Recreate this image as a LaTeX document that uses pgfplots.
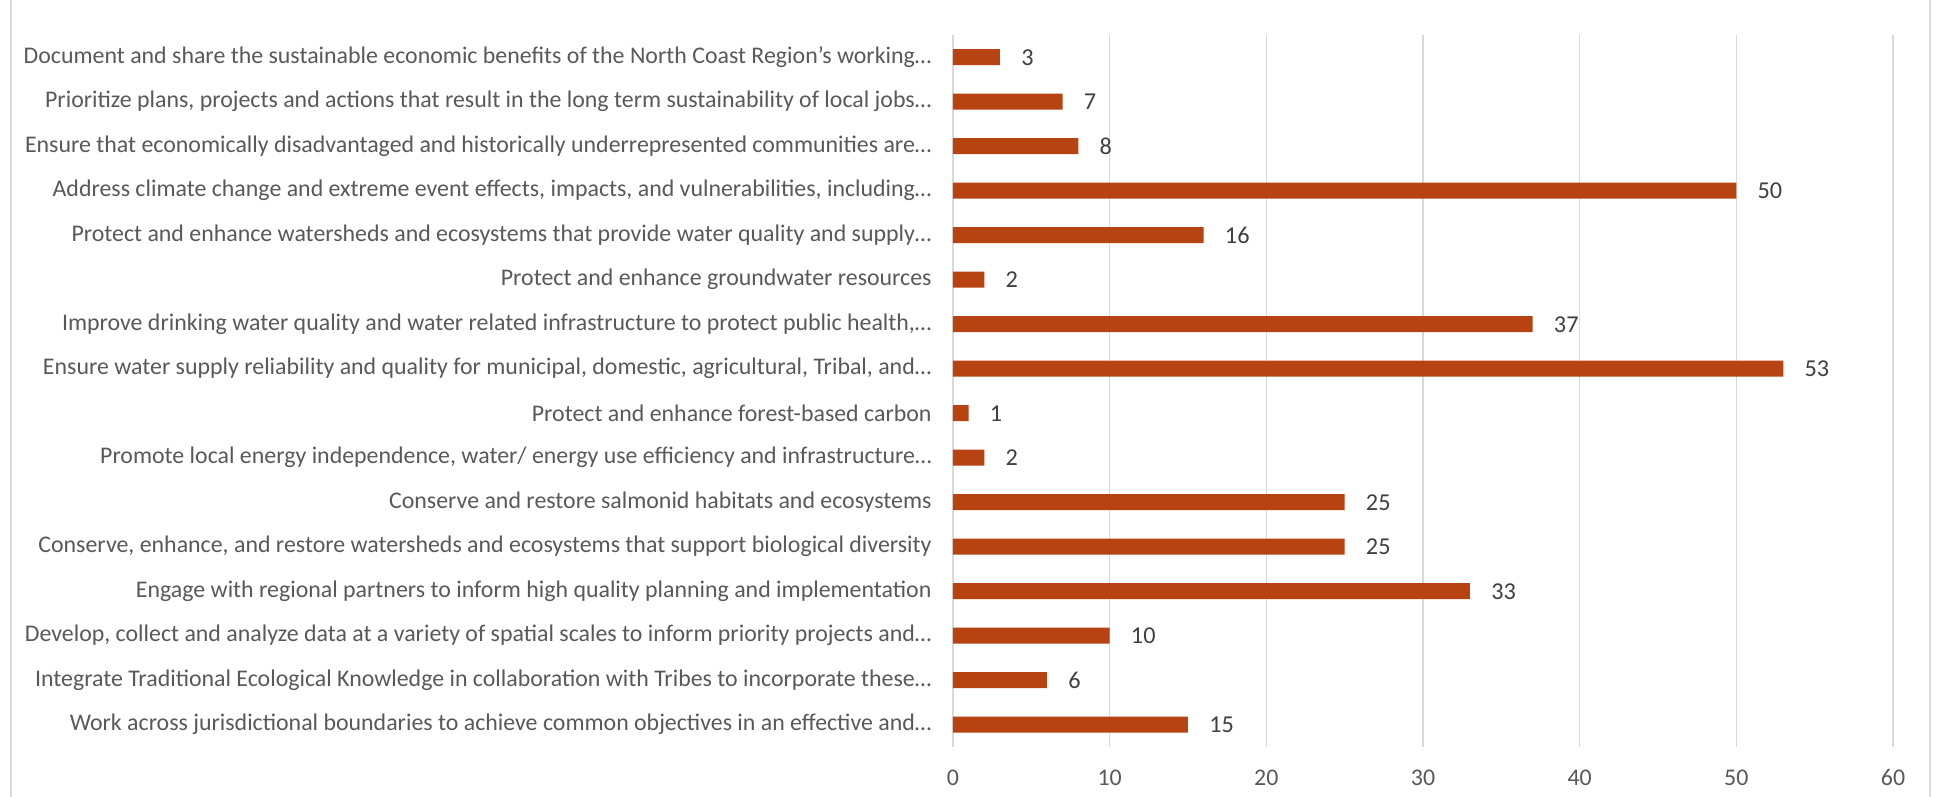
\documentclass[border=0pt]{standalone}
\usepackage{pgfplots}
\pgfplotsset{compat=1.18}
\usepackage{fontspec}
\setmainfont{Carlito}
\definecolor{barc}{RGB}{183,66,18}
\definecolor{gridc}{RGB}{217,217,217}
\definecolor{txtc}{RGB}{89,89,89}
\definecolor{valc}{RGB}{64,64,64}
\begin{document}
\begin{tikzpicture}
% 1 px of the reference = 0.4pt
\useasboundingbox (0,0) rectangle (777.2pt,318.8pt);
\fill[white] (0,0) rectangle (777.2pt,318.8pt);
\draw[gridc, line width=0.6pt] (4.4pt,-1pt) -- (4.4pt,320pt);
\draw[gridc, line width=0.6pt] (772pt,-1pt) -- (772pt,320pt);
\begin{axis}[
  at={(381.2pt,20pt)}, anchor=south west,
  scale only axis, width=376pt, height=284.8pt,
  xbar, bar width=6.4pt,
  xmin=0, xmax=60, ymin=-0.5, ymax=15.5,
  xtick={0,10,...,60},
  ytick={0,...,15},
  yticklabels={
    {Work across jurisdictional boundaries to achieve common objectives in an effective and…},
    {Integrate Traditional Ecological Knowledge in collaboration with Tribes to incorporate these…},
    {Develop, collect and analyze data at a variety of spatial scales to inform priority projects and…},
    {Engage with regional partners to inform high quality planning and implementation},
    {Conserve, enhance, and restore watersheds and ecosystems that support biological diversity},
    {Conserve and restore salmonid habitats and ecosystems},
    {Promote local energy independence, water/ energy use efficiency and infrastructure…},
    {Protect and enhance forest-based carbon},
    {Ensure water supply reliability and quality for municipal, domestic, agricultural, Tribal, and…},
    {Improve drinking water quality and water related infrastructure to protect public health,…},
    {Protect and enhance groundwater resources},
    {Protect and enhance watersheds and ecosystems that provide water quality and supply…},
    {Address climate change and extreme event effects, impacts, and vulnerabilities, including…},
    {Ensure that economically disadvantaged and historically underrepresented communities are…},
    {Prioritize plans, projects and actions that result in the long term sustainability of local jobs…},
    {Document and share the sustainable economic benefits of the North Coast Region’s working…}},
  major tick length=0pt,
  axis line style={draw=none},
  xmajorgrids, grid style={gridc, line width=0.55pt},
  /pgf/number format/assume math mode=true,
  tick label style={font=\fontsize{9.55}{11}\selectfont, text=txtc},
  yticklabel style={anchor=east, inner sep=0pt, xshift=-8.4pt},
  xticklabel style={anchor=center, inner sep=0pt, yshift=-12.4pt},
  nodes near coords,
  every node near coord/.append style={font=\fontsize{9.7}{11}\selectfont, text=valc, anchor=west, xshift=5pt},
]
\addplot[fill=barc, draw=none] coordinates {
  (15,0) (6,1) (10,2) (33,3) (25,4) (25,5) (2,6) (1,7)
  (53,8) (37,9) (2,10) (16,11) (50,12) (8,13) (7,14) (3,15)
};
\end{axis}
\end{tikzpicture}
\end{document}
